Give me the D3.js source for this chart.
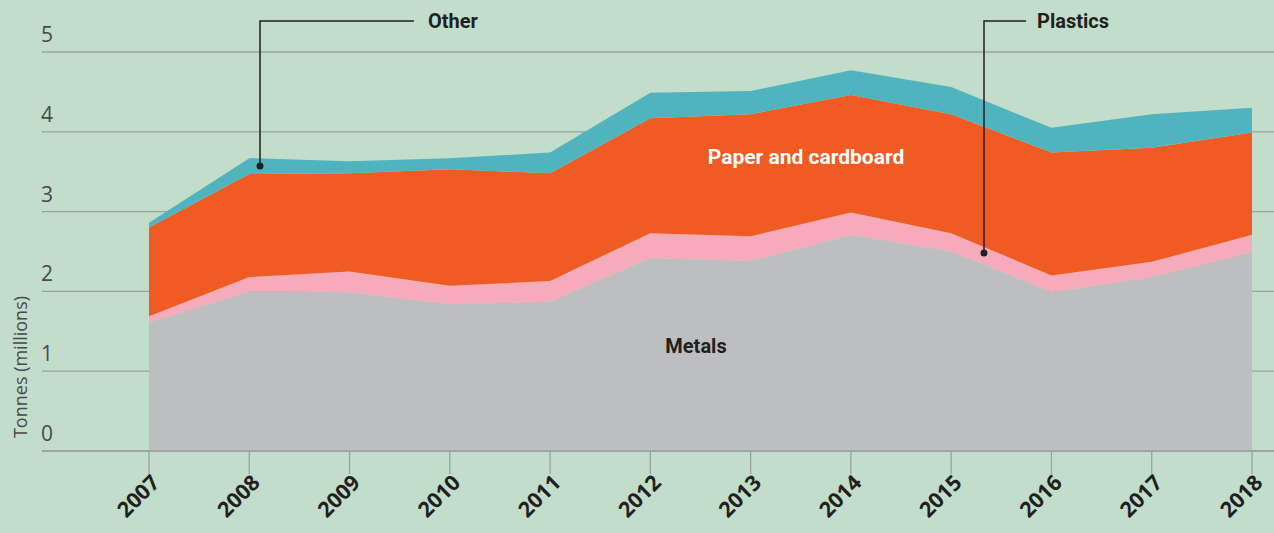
<!DOCTYPE html>
<html>
<head>
<meta charset="utf-8">
<script src="https://cdn.jsdelivr.net/npm/d3@7"></script>
<style>
  html, body { margin: 0; padding: 0; background: #c2ddca; }
  svg { display: block; }
</style>
</head>
<body>
<div id="chart"></div>
<script>
const years = [2007, 2008, 2009, 2010, 2011, 2012, 2013, 2014, 2015, 2016, 2017, 2018];
const metals = [1.61, 2.00, 1.99, 1.84, 1.87, 2.42, 2.38, 2.71, 2.50, 1.99, 2.18, 2.49];
const plastics = [0.08, 0.18, 0.26, 0.23, 0.26, 0.31, 0.31, 0.28, 0.23, 0.21, 0.19, 0.22];
const paper = [1.11, 1.29, 1.23, 1.46, 1.35, 1.44, 1.53, 1.47, 1.49, 1.54, 1.43, 1.28];
const other = [0.06, 0.20, 0.15, 0.14, 0.26, 0.32, 0.29, 0.31, 0.34, 0.31, 0.42, 0.31];
const yTicks = [0, 1, 2, 3, 4, 5];

const keys = ['metals', 'plastics', 'paper', 'other'];
const colors = { metals: '#bdbec0', plastics: '#f5abb9', paper: '#f05a23', other: '#4fb4be' };

const table = years.map((y, i) => ({
  year: y, metals: metals[i], plastics: plastics[i], paper: paper[i], other: other[i]
}));

const width = 1274, height = 533;
const svg = d3.select('#chart').append('svg')
  .attr('width', width).attr('height', height);

svg.append('rect').attr('width', width).attr('height', height).attr('fill', '#c2ddca');

const x = d3.scaleLinear().domain([2007, 2018]).range([149, 1252]);
const y = d3.scaleLinear().domain([0, 5]).range([451, 52]);

// grid lines
svg.append('g').selectAll('line').data(yTicks).enter().append('line')
  .attr('x1', 42).attr('x2', width)
  .attr('y1', d => y(d)).attr('y2', d => y(d))
  .attr('stroke', '#9aa29d').attr('stroke-width', 1.3);

// y labels
svg.append('g').selectAll('text').data(yTicks).enter().append('text')
  .attr('x', 41).attr('y', d => y(d) - 10)
  .attr('font-family', 'Open Sans, sans-serif')
  .attr('font-size', 21).attr('fill', '#4a4a4a')
  .text(d => d);

svg.append('text')
  .attr('transform', 'translate(27,367) rotate(-90)')
  .attr('text-anchor', 'middle')
  .attr('font-family', 'Open Sans, sans-serif')
  .attr('font-size', 18).attr('fill', '#4a4a4a')
  .text('Tonnes (millions)');

// stacked areas
const series = d3.stack().keys(keys)(table);
const area = d3.area()
  .x(d => x(d.data.year))
  .y0(d => y(d[0]))
  .y1(d => y(d[1]));

svg.append('g').selectAll('path').data(series).enter().append('path')
  .attr('d', area)
  .attr('fill', d => colors[d.key]);

// baseline
svg.append('line')
  .attr('x1', 42).attr('x2', width)
  .attr('y1', y(0)).attr('y2', y(0))
  .attr('stroke', '#9aa29d').attr('stroke-width', 1.3);

// x ticks
const xg = svg.append('g');
xg.selectAll('line').data(years).enter().append('line')
  .attr('x1', d => x(d)).attr('x2', d => x(d))
  .attr('y1', y(0)).attr('y2', y(0) + 23)
  .attr('stroke', '#9aa29d').attr('stroke-width', 1.3);
xg.selectAll('text').data(years).enter().append('text')
  .attr('text-anchor', 'end')
  .attr('transform', d => `translate(${x(d) + 12},${y(0) + 33}) rotate(-45)`)
  .attr('font-family', 'Open Sans, sans-serif')
  .attr('font-weight', 'bold')
  .attr('font-size', 21.5).attr('fill', '#231f20')
  .text(d => d);

// annotations
const ann = svg.append('g').attr('stroke', '#231f20').attr('fill', 'none').attr('stroke-width', 1.5);
ann.append('polyline').attr('points', `414,21 260,21 260,166`);
ann.append('polyline').attr('points', `1026,21 984,21 984,253`);
svg.append('circle').attr('cx', 260).attr('cy', 166).attr('r', 3.5).attr('fill', '#231f20');
svg.append('circle').attr('cx', 984).attr('cy', 253).attr('r', 3.5).attr('fill', '#231f20');

const label = (tx, ty, txt, fill, size) => svg.append('text')
  .attr('x', tx).attr('y', ty)
  .attr('text-anchor', 'middle')
  .attr('font-family', 'Roboto, sans-serif')
  .attr('font-weight', 'bold')
  .attr('font-size', size)
  .attr('fill', fill)
  .text(txt);

label(453, 28, 'Other', '#231f20', 20);
label(1073, 28, 'Plastics', '#231f20', 20);
label(806, 164, 'Paper and cardboard', '#ffffff', 21);
label(696, 353, 'Metals', '#231f20', 20);
</script>
</body>
</html>
